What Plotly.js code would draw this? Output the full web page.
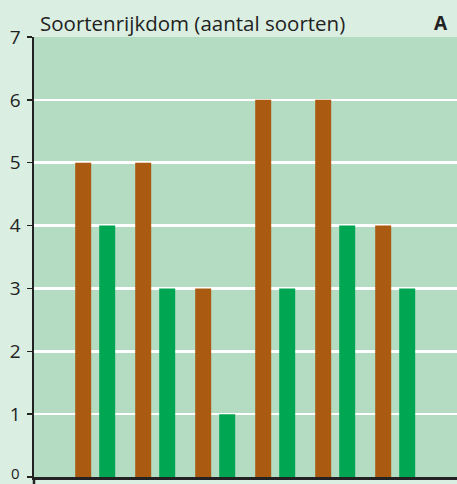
<!DOCTYPE html>
<html>
<head>
<meta charset="utf-8">
<script src="https://cdn.plot.ly/plotly-3.0.1.min.js"></script>
<style>html,body{margin:0;padding:0;background:#daeee1;}</style>
</head>
<body>
<div id="chart" style="width:457px;height:484px;"></div>
<script>
var categories = ["1", "2", "3", "4", "5", "6"];
var brownValues = [5, 5, 3, 6, 6, 4];
var greenValues = [4, 3, 1, 3, 4, 3];
var yTicks = [0, 1, 2, 3, 4, 5, 6, 7];
var yTickLabels = ["0", "1", "2", "3", "4", "5", "6", "7"];

var traces = [
  {type: "bar", x: categories, y: brownValues, marker: {color: "#ab5a11"}, hoverinfo: "y"},
  {type: "bar", x: categories, y: greenValues, marker: {color: "#00a651"}, hoverinfo: "y"}
];

// the bottom label (0) sits on the figure edge; draw it as an annotation so it is not dropped
var shownTickText = yTickLabels.map(function (t, i) { return yTicks[i] === 0 ? "" : t; });

var layout = {
  width: 457, height: 484,
  margin: {l: 34, r: 0, t: 37, b: 7, pad: 0},
  paper_bgcolor: "#daeee1",
  plot_bgcolor: "#b3dcc3",
  showlegend: false,
  barmode: "group",
  bargap: 0.2,
  bargroupgap: 0.3333,
  font: {family: "Open Sans, sans-serif", color: "#222"},
  xaxis: {
    type: "category",
    range: [-1.02, 6.03],
    showticklabels: false,
    ticks: "",
    showgrid: false,
    zeroline: false,
    showline: true, linecolor: "#222", linewidth: 2.5
  },
  yaxis: {
    range: [0, 7],
    tickvals: yTicks, ticktext: shownTickText,
    ticks: "outside", ticklen: 5, tickwidth: 1.5, tickcolor: "#222",
    ticklabelstandoff: 2,
    tickfont: {size: 19, color: "#222"},
    showgrid: true, gridcolor: "#ffffff", gridwidth: 2.5,
    zeroline: false,
    showline: true, linecolor: "#222", linewidth: 2.5
  },
  shapes: [
    {type: "line", xref: "paper", yref: "paper", x0: 0, x1: 0, y0: 0, y1: -8/440,
     line: {color: "#222", width: 2.5}}
  ],
  annotations: [
    {xref: "paper", yref: "paper", x: 4/423, y: 1, xanchor: "left", yanchor: "bottom", yshift: -2,
     text: "Soortenrijkdom (aantal soorten)", showarrow: false, font: {size: 20.5, color: "#222"}},
    {xref: "paper", yref: "paper", x: 1, y: 1, xanchor: "right", yanchor: "bottom", xshift: -7, yshift: -1,
     text: "<b>A</b>", showarrow: false, font: {size: 19, color: "#222"}},
    {xref: "paper", yref: "y", x: 0, y: yTicks[0], xanchor: "right", yanchor: "bottom", xshift: -12, yshift: -7.5,
     text: yTickLabels[0], showarrow: false, font: {size: 15, color: "#222"}}
  ]
};

Plotly.newPlot("chart", traces, layout, {displayModeBar: false, staticPlot: true});
</script>
</body>
</html>
